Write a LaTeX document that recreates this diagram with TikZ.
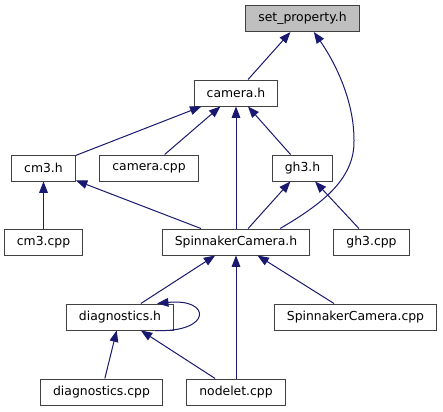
\documentclass[tikz,border=0pt]{standalone}
\usepackage{fontspec}
\setmainfont{DejaVu Sans}
\usepackage{tikz}
\usetikzlibrary{arrows.meta}
\definecolor{edgeblue}{HTML}{191970}
\definecolor{boxline}{HTML}{404040}
\definecolor{boxgray}{HTML}{BFBFBF}
\tikzset{
  file/.style={draw=boxline, line width=0.75pt, fill=white, inner xsep=9.5pt, inner ysep=0pt,
    minimum height=19.5pt, font=\fontsize{9.3}{11}\selectfont},
  dep/.style={draw=edgeblue, line width=0.75pt, -{Triangle[length=8.5pt,width=6.5pt]}}
}

\begin{document}
\begin{tikzpicture}[x=0.75pt,y=-0.75pt]
		\useasboundingbox[fill=white] (0,0) rectangle (443,411);
		
		% files
		\node[file, fill=boxgray] (setph) at (302.5,18.5) {set\_property.h};
		\node[file] (camh) at (236,93) {camera.h};
		\node[file] (cmh) at (43.5,168) {cm3.h};
		\node[file] (camcpp) at (149,168) {camera.cpp};
		\node[file] (ghh) at (302.5,168) {gh3.h};
		\node[file] (cmcpp) at (43.5,242) {cm3.cpp};
		\node[file] (spinh) at (236,242) {SpinnakerCamera.h};
		\node[file] (ghcpp) at (371.5,242) {gh3.cpp};
		\node[file] (diagh) at (120,317) {diagnostics.h};
		\node[file] (spincpp) at (355.5,317) {SpinnakerCamera.cpp};
		\node[file] (diagcpp) at (101.5,392) {diagnostics.cpp};
		\node[file] (nodcpp) at (236,392) {nodelet.cpp};
		
		% includes
		\draw[dep] (camh) -- (setph);
		\draw[dep] (spinh.17) .. controls (320,205) and (355,180) .. (354,140)
			.. controls (354,95) and (330,55) .. (setph.-50);
		\draw[dep] (cmh) -- (camh);
		\draw[dep] (camcpp) -- (camh);
		\draw[dep] (spinh) -- (camh);
		\draw[dep] (ghh) -- (camh);
		\draw[dep] (cmcpp) -- (cmh);
		\draw[dep] (spinh) -- (cmh);
		\draw[dep] (spinh) -- (ghh);
		\draw[dep] (ghcpp) -- (ghh);
		\draw[dep] (diagh) -- (spinh);
		\draw[dep] (nodcpp) -- (spinh);
		\draw[dep] (spincpp) -- (spinh);
		\draw[dep] (diagh.-21) .. controls (212,333) and (212,298) .. (diagh.20);
		\draw[dep] (diagcpp) -- (diagh);
		\draw[dep] (nodcpp) -- (diagh);
	\end{tikzpicture}
\end{document}
